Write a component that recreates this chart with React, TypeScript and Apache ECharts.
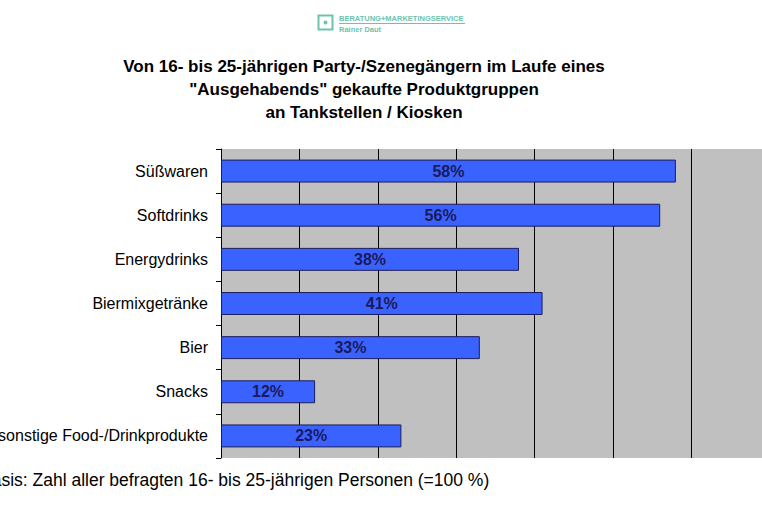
import React, { useEffect, useRef } from "react";
import * as echarts from "echarts";

const categories = [
  "Süßwaren",
  "Softdrinks",
  "Energydrinks",
  "Biermixgetränke",
  "Bier",
  "Snacks",
  "sonstige Food-/Drinkprodukte",
];
const values = [58, 56, 38, 41, 33, 12, 23];
const titleLines = [
  "Von 16- bis 25-jährigen Party-/Szenegängern im Laufe eines",
  "\"Ausgehabends\" gekaufte Produktgruppen",
  "an Tankstellen / Kiosken",
];
const footer = "Basis: Zahl aller befragten 16- bis 25-jährigen Personen (=100 %)";
const logoLines = ["BERATUNG+MARKETINGSERVICE", "Rainer Daut"];

const FONT = "Liberation Sans, Arial, sans-serif";

export default function App() {
  const ref = useRef<HTMLDivElement>(null);
  useEffect(() => {
    if (!ref.current) return;
    const chart = echarts.init(ref.current, undefined, { renderer: "svg" });
    const teal = "#6cc3ae";
    chart.setOption({
      animation: false,
      backgroundColor: "#ffffff",
      textStyle: { fontFamily: FONT },
      grid: {
        left: 221,
        top: 149,
        width: 549,
        height: 309,
        show: true,
        backgroundColor: "#c0c0c0",
        borderWidth: 0,
        containLabel: false,
        outerBoundsMode: "none",
      },
      xAxis: {
        type: "value",
        min: 0,
        max: 70,
        interval: 10,
        axisLabel: { show: false },
        axisLine: { show: false },
        axisTick: { show: false },
        splitLine: { show: true, lineStyle: { color: "#000000", width: 1 } },
      },
      yAxis: {
        type: "category",
        data: categories,
        inverse: true,
        axisLine: { show: true, lineStyle: { color: "#000000", width: 1 } },
        axisTick: { show: true, length: 5, lineStyle: { color: "#000000" } },
        axisLabel: {
          color: "#000000",
          fontSize: 16,
          margin: 13,
          fontFamily: FONT,
        },
      },
      series: [
        {
          type: "bar",
          data: values,
          barWidth: "52%",
          itemStyle: { color: "#3a62ff", borderColor: "#1c1c5c", borderWidth: 1 },
          label: {
            show: true,
            position: "inside",
            formatter: "{c}%",
            color: "#1a1a5a",
            fontWeight: "bold",
            fontSize: 16,
            fontFamily: FONT,
          },
        },
      ],
      graphic: [
        ...titleLines.map((t, i) => ({
          type: "text",
          x: 364,
          y: 66 + i * 23,
          style: {
            text: t,
            align: "center",
            verticalAlign: "middle",
            fontSize: 17,
            fontWeight: "bold",
            fill: "#000000",
            fontFamily: FONT,
          },
        })),
        {
          type: "text",
          x: -20,
          y: 480,
          style: {
            text: footer,
            align: "left",
            verticalAlign: "middle",
            fontSize: 17.5,
            fill: "#000000",
            fontFamily: FONT,
          },
        },
        {
          type: "rect",
          shape: { x: 318.5, y: 15.5, width: 14, height: 14 },
          style: { fill: "none", stroke: teal, lineWidth: 2 },
        },
        {
          type: "circle",
          shape: { cx: 325.5, cy: 22.5, r: 2 },
          style: { fill: teal },
        },
        {
          type: "text",
          x: 339,
          y: 18.5,
          style: {
            text: logoLines[0],
            align: "left",
            verticalAlign: "middle",
            fontSize: 7.5,
            fontWeight: "bold",
            fill: teal,
            fontFamily: FONT,
          },
        },
        {
          type: "line",
          shape: { x1: 339, y1: 23.5, x2: 465, y2: 23.5 },
          style: { stroke: teal, lineWidth: 1 },
        },
        {
          type: "text",
          x: 339,
          y: 29,
          style: {
            text: logoLines[1],
            align: "left",
            verticalAlign: "middle",
            fontSize: 7.5,
            fontWeight: "bold",
            fill: teal,
            fontFamily: FONT,
          },
        },
      ],
    });
    return () => chart.dispose();
  }, []);
  return (
    <div style={{ position: "absolute", left: 0, top: 0, width: 762, height: 508, overflow: "hidden" }}>
      <div ref={ref} style={{ position: "absolute", left: 0, top: 0, width: 800, height: 508 }} />
    </div>
  );
}
